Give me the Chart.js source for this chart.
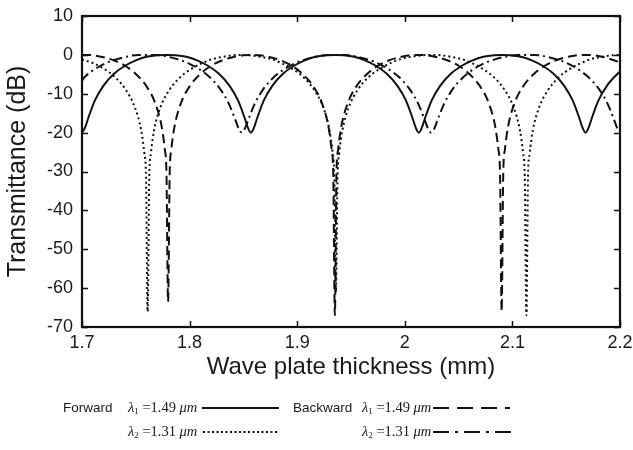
<!DOCTYPE html>
<html>
<head>
<meta charset="utf-8">
<script src="https://cdn.jsdelivr.net/npm/chart.js@4.4.1/dist/chart.umd.min.js"></script>
<style>
  body { margin: 0; background: #fff; }
  #wrap { position: relative; width: 633px; height: 450px; }
  #chart { position: absolute; left: 0; top: 0; }
  .lg { position: absolute; white-space: nowrap; color: #1a1a1a; line-height: 20px; }
  .word { font-family: Arial, "Liberation Sans", sans-serif; font-size: 13.5px; }
  .eq { font-family: "Times New Roman", "Liberation Serif", serif; font-size: 14.5px; }
  .eq sub { font-size: 9px; vertical-align: -2px; font-style: normal; }
  .lg svg { display: block; }
</style>
</head>
<body>
<div id="wrap">
  <canvas id="chart" width="633" height="450"></canvas>

  <div class="lg word" style="left:63px; top:398px;">Forward</div>
  <div class="lg eq" style="left:128px; top:397px;"><i>λ</i><sub>1</sub> =1.49 <i>μm</i></div>
  <div class="lg" style="left:202px; top:406px;"><svg width="77" height="4"><line x1="0" y1="2" x2="77" y2="2" stroke="#111" stroke-width="2"/></svg></div>
  <div class="lg word" style="left:293px; top:398px;">Backward</div>
  <div class="lg eq" style="left:362px; top:397px;"><i>λ</i><sub>1</sub> =1.49 <i>μm</i></div>
  <div class="lg" style="left:433px; top:406px;"><svg width="77" height="4"><line x1="0" y1="2" x2="77" y2="2" stroke="#111" stroke-width="2" stroke-dasharray="16 8"/></svg></div>

  <div class="lg eq" style="left:128px; top:421px;"><i>λ</i><sub>2</sub> =1.31 <i>μm</i></div>
  <div class="lg" style="left:203px; top:430px;"><svg width="75" height="4"><line x1="0" y1="2" x2="75" y2="2" stroke="#111" stroke-width="2" stroke-dasharray="2 2.5"/></svg></div>
  <div class="lg eq" style="left:362px; top:421px;"><i>λ</i><sub>2</sub> =1.31 <i>μm</i></div>
  <div class="lg" style="left:433px; top:430px;"><svg width="80" height="4"><line x1="0" y1="2" x2="80" y2="2" stroke="#111" stroke-width="2" stroke-dasharray="16 6 3 6"/></svg></div>
</div>

<script>
// tick values
const xTicks = [1.7, 1.8, 1.9, 2.0, 2.1, 2.2];
const yTicks = [10, 0, -10, -20, -30, -40, -50, -60, -70];

// forward, lambda1 = 1.49 um (solid)
const fwd1X = [1.700, 1.703, 1.706, 1.712, 1.720, 1.730, 1.740, 1.750, 1.760, 1.770, 1.7785,
    1.787, 1.797, 1.807, 1.817, 1.827, 1.837, 1.845, 1.851, 1.854, 1.857,
    1.860, 1.863, 1.869, 1.877, 1.887, 1.897, 1.907, 1.917, 1.927, 1.935,
    1.943, 1.953, 1.963, 1.973, 1.983, 1.993, 2.001, 2.007, 2.010, 2.013,
    2.016, 2.019, 2.025, 2.033, 2.043, 2.053, 2.063, 2.073, 2.083, 2.0905,
    2.098, 2.108, 2.118, 2.128, 2.138, 2.148, 2.156, 2.162, 2.165, 2.168,
    2.171, 2.174, 2.180, 2.188, 2.198, 2.200];
const fwd1Y = [-20, -18.6, -16.1, -11.7, -7.9, -4.8, -2.8, -1.4, -0.5, -0.1, 0,
    -0.1, -0.5, -1.4, -2.8, -4.8, -7.9, -11.7, -16.1, -18.6, -20,
    -18.6, -16.1, -11.7, -7.9, -4.8, -2.8, -1.4, -0.5, -0.1, 0,
    -0.1, -0.5, -1.4, -2.8, -4.8, -7.9, -11.7, -16.1, -18.6, -20,
    -18.6, -16.1, -11.7, -7.9, -4.8, -2.8, -1.4, -0.5, -0.1, 0,
    -0.1, -0.5, -1.4, -2.8, -4.8, -7.9, -11.7, -16.1, -18.6, -20,
    -18.6, -16.1, -11.7, -7.9, -4.8, -4.3];

// forward, lambda2 = 1.31 um (dotted)
const fwd2X = [1.700, 1.711, 1.721, 1.731, 1.741, 1.749, 1.755, 1.758, 1.7595, 1.761,
    1.7625, 1.764, 1.767, 1.773, 1.781, 1.791, 1.801, 1.811, 1.821, 1.831, 1.841, 1.8485,
    1.856, 1.866, 1.876, 1.886, 1.896, 1.906, 1.916, 1.924, 1.930, 1.933, 1.9345, 1.936,
    1.9375, 1.939, 1.942, 1.948, 1.956, 1.966, 1.976, 1.986, 1.996, 2.006, 2.016, 2.0245,
    2.033, 2.043, 2.053, 2.063, 2.073, 2.083, 2.093, 2.101, 2.107, 2.110, 2.1115, 2.113,
    2.1145, 2.116, 2.119, 2.125, 2.133, 2.143, 2.153, 2.163, 2.173, 2.183, 2.193, 2.200];
const fwd2Y = [-1.2, -2.2, -3.7, -5.8, -9.1, -13.4, -19.4, -25.4, -31.4, -66,
    -31.4, -25.4, -19.4, -13.4, -9.1, -5.8, -3.7, -2.2, -1.1, -0.5, -0.1, 0,
    -0.1, -0.5, -1.1, -2.2, -3.7, -5.8, -9.1, -13.4, -19.4, -25.4, -31.4, -61,
    -31.4, -25.4, -19.4, -13.4, -9.1, -5.8, -3.7, -2.2, -1.1, -0.5, -0.1, 0,
    -0.1, -0.5, -1.1, -2.2, -3.7, -5.8, -9.1, -13.4, -19.4, -25.4, -31.4, -67,
    -31.4, -25.4, -19.4, -13.4, -9.1, -5.8, -3.7, -2.2, -1.1, -0.5, -0.1, 0];

// backward, lambda1 = 1.49 um (dashed)
const bwd1X = [1.700, 1.710, 1.720, 1.730, 1.740, 1.750, 1.760, 1.768, 1.774, 1.777, 1.7785, 1.780,
    1.7815, 1.783, 1.786, 1.792, 1.800, 1.810, 1.820, 1.830, 1.840, 1.850, 1.8575,
    1.865, 1.875, 1.885, 1.895, 1.905, 1.915, 1.923, 1.929, 1.932, 1.9335, 1.935,
    1.9365, 1.938, 1.941, 1.947, 1.955, 1.965, 1.975, 1.985, 1.995, 2.005, 2.0125,
    2.020, 2.030, 2.040, 2.050, 2.060, 2.070, 2.078, 2.084, 2.087, 2.0885, 2.090,
    2.0915, 2.093, 2.096, 2.102, 2.110, 2.120, 2.130, 2.140, 2.150, 2.160, 2.1675,
    2.175, 2.185, 2.195, 2.200];
const bwd1Y = [0, -0.1, -0.6, -1.45, -2.8, -4.9, -8.1, -12.4, -18.4, -24.4, -30.4, -63.5,
    -30.4, -24.4, -18.4, -12.4, -8.1, -4.9, -2.8, -1.45, -0.6, -0.1, 0,
    -0.1, -0.6, -1.45, -2.8, -4.9, -8.1, -12.4, -18.4, -24.4, -30.4, -67,
    -30.4, -24.4, -18.4, -12.4, -8.1, -4.9, -2.8, -1.45, -0.6, -0.1, 0,
    -0.1, -0.6, -1.45, -2.8, -4.9, -8.1, -12.4, -18.4, -24.4, -30.4, -66,
    -30.4, -24.4, -18.4, -12.4, -8.1, -4.9, -2.8, -1.45, -0.6, -0.1, 0,
    -0.1, -0.6, -1.45, -1.9];

// backward, lambda2 = 1.31 um (dash-dot)
const bwd2X = [1.700, 1.7025, 1.7125, 1.7225, 1.7325, 1.7425, 1.7525, 1.7605, 1.7685,
    1.7785, 1.7885, 1.7985, 1.8085, 1.8185, 1.8285, 1.8365, 1.8425, 1.8455, 1.8485,
    1.8515, 1.8545, 1.8605, 1.8685, 1.8785, 1.8885, 1.8985, 1.9085, 1.9185, 1.9285, 1.9365, 1.9445,
    1.9545, 1.9645, 1.9745, 1.9845, 1.9945, 2.0045, 2.0125, 2.0185, 2.0215, 2.0245,
    2.0275, 2.0305, 2.0365, 2.0445, 2.0545, 2.0645, 2.0745, 2.0845, 2.0945, 2.1045, 2.1125, 2.1205,
    2.1305, 2.1405, 2.1505, 2.1605, 2.1705, 2.1805, 2.1885, 2.1945, 2.1975, 2.200];
const bwd2Y = [-6.6, -5.7, -3.6, -2.1, -1.1, -0.4, 0, 0, 0,
    -0.4, -1.1, -2.1, -3.6, -5.7, -8.8, -12.6, -16.7, -18.9, -20,
    -18.9, -16.7, -12.6, -8.8, -5.7, -3.6, -2.1, -1.1, -0.4, 0, 0, 0,
    -0.4, -1.1, -2.1, -3.6, -5.7, -8.8, -12.6, -16.7, -18.9, -20,
    -18.9, -16.7, -12.6, -8.8, -5.7, -3.6, -2.1, -1.1, -0.4, 0, 0, 0,
    -0.4, -1.1, -2.1, -3.6, -5.7, -8.8, -12.6, -16.7, -18.9, -19.8];

const toPoints = (xs, ys) => xs.map((x, i) => ({ x: x, y: ys[i] }));

const FONT = "Arial, 'Liberation Sans', Helvetica, sans-serif";
const TEXT = "#1a1a1a";

// box around the plot, with ticks pointing inward on all four sides
const boxPlugin = {
    id: "box",
    afterDatasetsDraw(chart) {
        const { ctx, chartArea: a, scales } = chart;
        const len = 6;
        ctx.save();
        ctx.strokeStyle = "#111";
        ctx.lineWidth = 1.5;
        ctx.beginPath();
        scales.x.ticks.forEach((t) => {
            const px = Math.round(scales.x.getPixelForValue(t.value)) + 0.5;
            ctx.moveTo(px, a.bottom);
            ctx.lineTo(px, a.bottom - len);
            ctx.moveTo(px, a.top);
            ctx.lineTo(px, a.top + len);
        });
        scales.y.ticks.forEach((t) => {
            const py = Math.round(scales.y.getPixelForValue(t.value)) + 0.5;
            ctx.moveTo(a.left, py);
            ctx.lineTo(a.left + len, py);
            ctx.moveTo(a.right, py);
            ctx.lineTo(a.right - len, py);
        });
        ctx.stroke();
        ctx.lineWidth = 2.2;
        ctx.strokeRect(a.left, a.top, a.right - a.left, a.bottom - a.top);
        ctx.restore();
    },
};

const line = (data, dash) => ({
    data: data,
    borderColor: "#111",
    borderWidth: 2,
    borderDash: dash,
    pointRadius: 0,
    fill: false,
    cubicInterpolationMode: "monotone",
});

const ctx = document.getElementById("chart").getContext("2d");
new Chart(ctx, {
    type: "line",
    data: {
        datasets: [
            line(toPoints(fwd1X, fwd1Y), []),
            line(toPoints(fwd2X, fwd2Y), [2, 3]),
            line(toPoints(bwd1X, bwd1Y), [9, 5]),
            line(toPoints(bwd2X, bwd2Y), [9, 4, 2, 4]),
        ],
    },
    options: {
        responsive: false,
        animation: false,
        devicePixelRatio: 1,
        layout: { padding: { left: 0, right: 0, top: 16, bottom: 68 } },
        scales: {
            x: {
                type: "linear",
                min: 1.7,
                max: 2.2,
                afterBuildTicks: (s) => { s.ticks = xTicks.map((v) => ({ value: v })); },
                afterFit: (s) => {
                    s.height = 55;
                    s.paddingLeft = 0;
                    s.paddingRight = 13;
                },
                grid: { display: false, drawTicks: false },
                border: { display: false },
                ticks: {
                    padding: 5,
                    color: TEXT,
                    font: { family: FONT, size: 18 },
                    callback: (v) => String(Math.round(v * 10) / 10),
                },
                title: {
                    display: true,
                    text: "Wave plate thickness (mm)",
                    color: TEXT,
                    font: { family: FONT, size: 24 },
                    padding: { top: 0, bottom: 0 },
                },
            },
            y: {
                min: -70,
                max: 10,
                afterBuildTicks: (s) => { s.ticks = yTicks.map((v) => ({ value: v })); },
                afterFit: (s) => {
                    s.width = 82;
                    s.paddingTop = 0;
                    s.paddingBottom = 0;
                },
                grid: { display: false, drawTicks: false },
                border: { display: false },
                ticks: {
                    padding: 9,
                    color: TEXT,
                    font: { family: FONT, size: 18 },
                },
                title: {
                    display: true,
                    text: "Transmittance (dB)",
                    color: TEXT,
                    font: { family: FONT, size: 25 },
                    padding: { top: 3, bottom: 0 },
                },
            },
        },
        plugins: {
            legend: { display: false },
            tooltip: { enabled: false },
        },
    },
    plugins: [boxPlugin],
});
</script>
</body>
</html>
